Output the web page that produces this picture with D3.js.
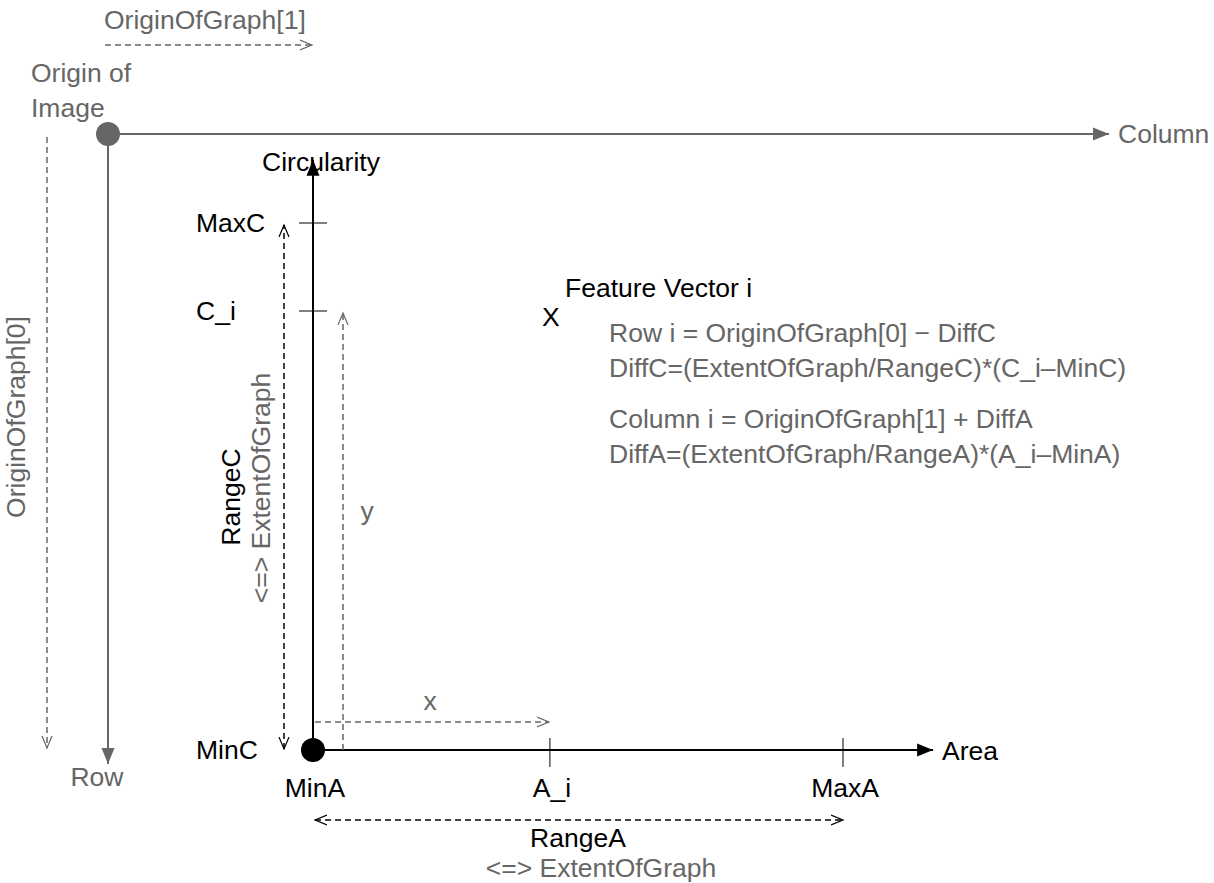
<!DOCTYPE html>
<html>
<head>
<meta charset="utf-8">
<script src="https://cdn.jsdelivr.net/npm/d3@7"></script>
<style>
  body { margin: 0; background: #fff; }
  text { font-family: "Liberation Sans", Arial, sans-serif; font-size: 26.5px; }
</style>
</head>
<body>
<script>
// diagram values (abstract units, graph extent = 1)
var areaLabels = ["MinA", "A_i", "MaxA"];
var areaValues = [0, 0.447, 1];
var circLabels = ["MinC", "C_i", "MaxC"];
var circValues = [0, 0.833, 1];
var formulaLines = [
  "Row i = OriginOfGraph[0] \u2212 DiffC",
  "DiffC=(ExtentOfGraph/RangeC)*(C_i\u2013MinC)",
  "Column i = OriginOfGraph[1] + DiffA",
  "DiffA=(ExtentOfGraph/RangeA)*(A_i\u2013MinA)"
];
var formulaOffsets = [0, 1, 2.45, 3.45];

var width = 1214, height = 883;
var gray = "#666", black = "#000";

var svg = d3.select("body").append("svg").attr("width", width).attr("height", height);

// markers
var defs = svg.append("defs");
function filledMarker(id, color) {
  defs.append("marker").attr("id", id).attr("markerUnits", "userSpaceOnUse")
    .attr("markerWidth", 18).attr("markerHeight", 14).attr("refX", 16).attr("refY", 7)
    .attr("orient", "auto")
    .append("path").attr("d", "M0,0.5 L16,7 L0,13.5 z").attr("fill", color);
}
function openMarker(id, color) {
  defs.append("marker").attr("id", id).attr("markerUnits", "userSpaceOnUse")
    .attr("markerWidth", 14).attr("markerHeight", 12).attr("refX", 12).attr("refY", 6)
    .attr("orient", "auto-start-reverse")
    .append("path").attr("d", "M0,1 L12,6 L0,11").attr("fill", "none").attr("stroke", color).attr("stroke-width", 1.2);
}
filledMarker("fGray", gray);
filledMarker("fBlack", black);
openMarker("oGray", gray);
openMarker("oBlack", black);

// image coordinate system
var imgOrigin = [108, 134];
var col = d3.scaleLinear().domain([0, 1]).range([imgOrigin[0], 1109]);
var row = d3.scaleLinear().domain([0, 1]).range([imgOrigin[1], 764]);

// graph scales
var xA = d3.scaleLinear().domain([0, 1]).range([313, 843]);
var yC = d3.scaleLinear().domain([0, 1]).range([750, 223]);

function line(x1, y1, x2, y2, color, dashed, mEnd, mStart, sw) {
  var l = svg.append("line").attr("x1", x1).attr("y1", y1).attr("x2", x2).attr("y2", y2)
    .attr("stroke", color).attr("stroke-width", sw || 1.5);
  if (dashed) l.attr("stroke-dasharray", "6,4");
  if (mEnd) l.attr("marker-end", "url(#" + mEnd + ")");
  if (mStart) l.attr("marker-start", "url(#" + mStart + ")");
  return l;
}
function text(x, y, s, color, anchor, rot) {
  var t = svg.append("text").attr("x", x).attr("y", y).attr("fill", color)
    .attr("text-anchor", anchor || "start").text(s);
  if (rot) t.attr("transform", "rotate(" + rot + "," + x + "," + y + ")");
  return t;
}

// image axes
line(col(0), row(0), col(1), row(0), gray, false, "fGray", null, 2);
line(col(0), row(0), col(0), row(1), gray, false, "fGray", null, 2);
svg.append("circle").attr("cx", imgOrigin[0]).attr("cy", imgOrigin[1]).attr("r", 12).attr("fill", gray);
text(col(1) + 9, row(0) + 9, "Column", gray);
text(col(0) - 11, row(1) + 22, "Row", gray, "middle");
text(31, 82, "Origin of", gray);
text(31, 117, "Image", gray);

// OriginOfGraph arrows
line(105, 45, xA(0) - 1, 45, gray, true, "oGray");
text(104, 29, "OriginOfGraph[1]", gray);
line(47, 137, 47, yC(0) - 2, gray, true, "oGray");
text(25, 417, "OriginOfGraph[0]", gray, "middle", -90);

// graph axes
line(xA(0), yC(0), xA(0), yC(1.12), black, false, "fBlack", null, 2);
line(xA(0), yC(0), xA(1.17), yC(0), black, false, "fBlack", null, 2);
svg.append("circle").attr("cx", xA(0)).attr("cy", yC(0)).attr("r", 12).attr("fill", black);
text(xA(0) + 8, 171, "Circularity", black, "middle");
text(xA(1.17) + 9, yC(0) + 10, "Area", black);

// ticks and labels
areaValues.forEach(function (v, i) {
  if (i > 0) line(xA(v), yC(0) - 12, xA(v), yC(0) + 17, black, false, null, null, 1);
  text(xA(v) + 2, 797, areaLabels[i], black, "middle");
});
circValues.forEach(function (v, i) {
  if (i > 0) line(xA(0) - 14, yC(v), xA(0) + 14, yC(v), black, false, null, null, 1);
  text(196, yC(v) + 9, circLabels[i], black);
});

// range arrows
line(xA(0) + 2, 820, xA(1), 820, black, true, "oBlack", "oBlack");
text((xA(0) + xA(1)) / 2, 847, "RangeA", black, "middle");
text((xA(0) + xA(1)) / 2 + 23, 877, "<=> ExtentOfGraph", gray, "middle");
line(284, yC(0) - 1, 284, yC(1) + 2, black, true, "oBlack", "oBlack");
text(240, 497, "RangeC", black, "middle", -90);
text(270, 488, "<=> ExtentOfGraph", gray, "middle", -90);

// feature vector projections
line(343, yC(0), 343, yC(circValues[1]) + 2, gray, true, "oGray");
text(367, 520, "y", gray, "middle");
line(xA(0) + 2, 722, xA(areaValues[1]) - 1, 722, gray, true, "oGray");
text(430, 710, "x", gray, "middle");

// feature vector
text(xA(areaValues[1]) + 1, 326, "X", black, "middle");
text(565, 297, "Feature Vector i", black);
formulaLines.forEach(function (s, i) {
  text(609, 342 + formulaOffsets[i] * 35, s, gray);
});
</script>
</body>
</html>
